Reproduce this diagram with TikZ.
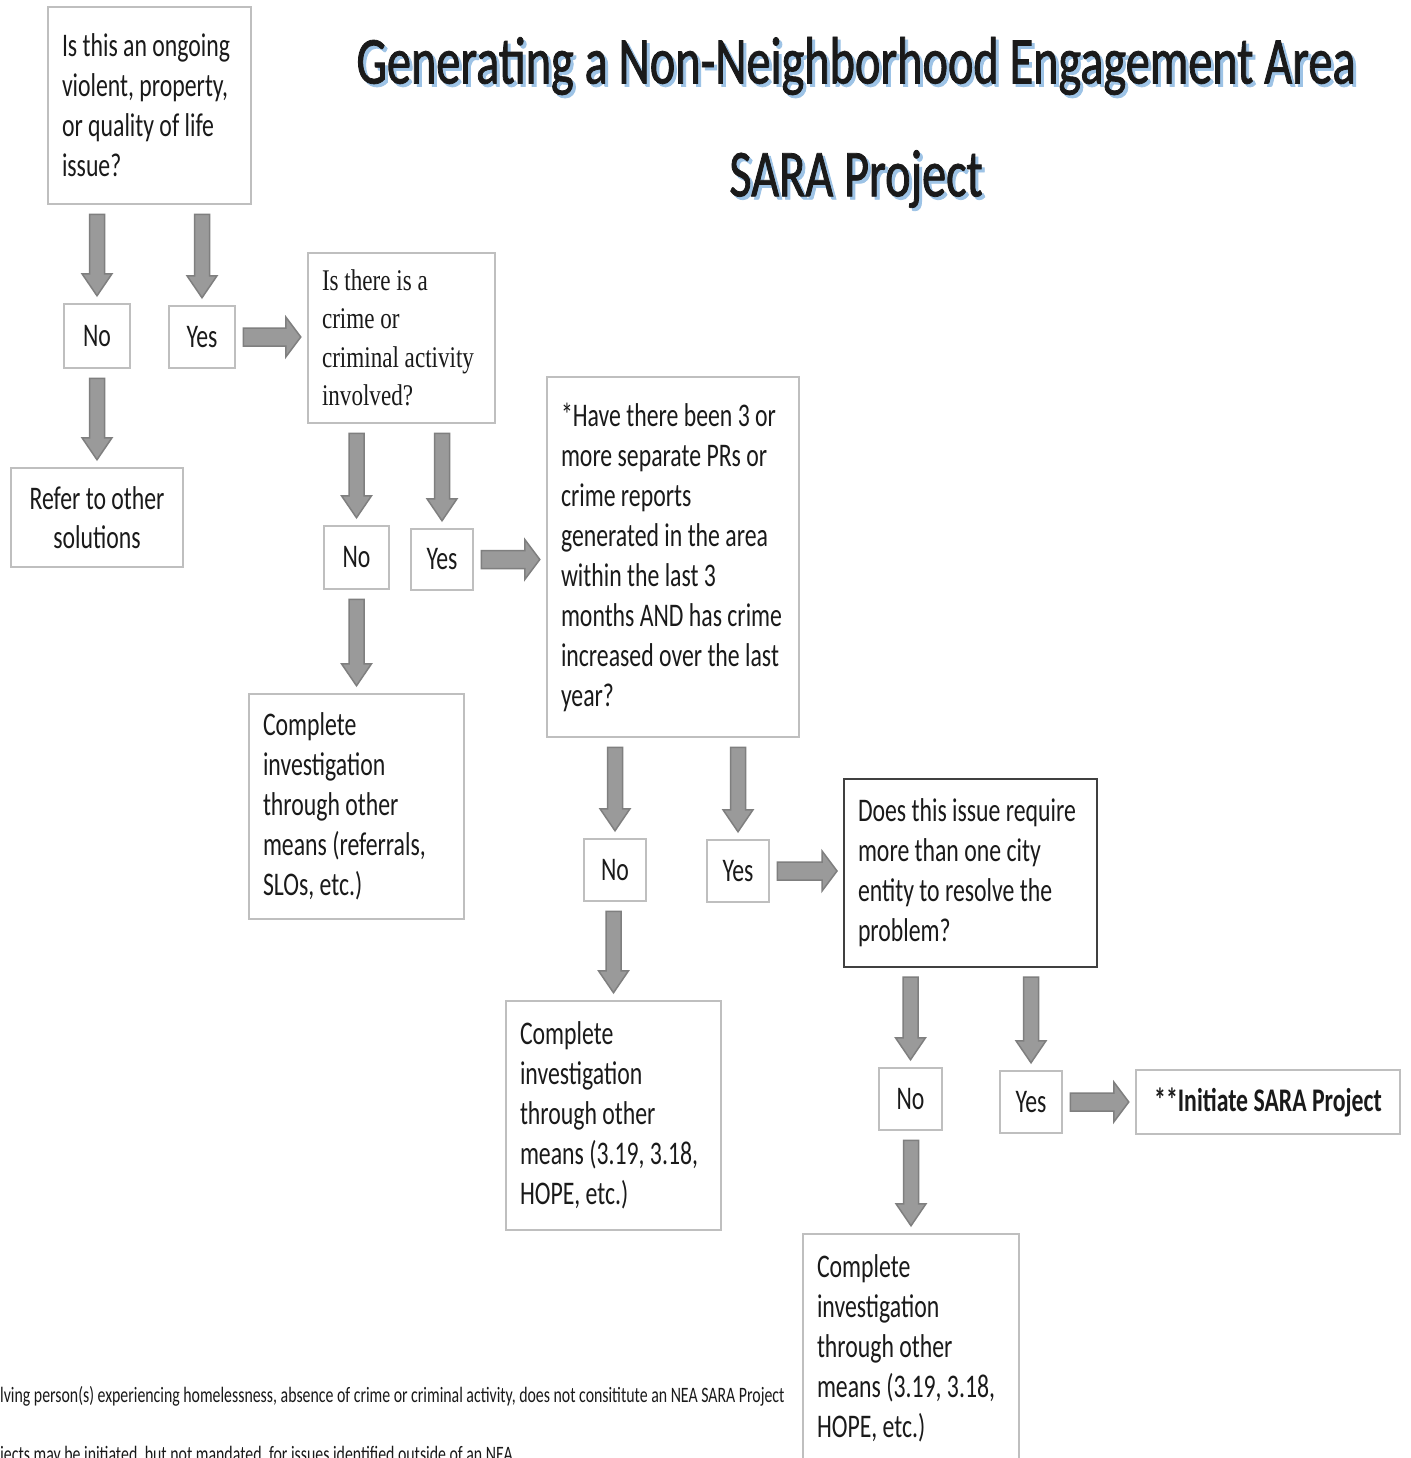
\documentclass[tikz,border=0pt]{standalone}
\usepackage{fontspec}
\setmainfont{Carlito}[FakeStretch=0.72]
\newfontfamily\serifc{Liberation Serif}[FakeStretch=0.77]
\newfontfamily\titlef{Carlito}[FakeStretch=0.72, FakeBold=1.2]
\usetikzlibrary{calc}
\definecolor{boxgray}{HTML}{BFBFBF}
\definecolor{boxdark}{HTML}{404040}
\definecolor{arrfill}{HTML}{9A9A9A}
\definecolor{arrline}{HTML}{7F7F7F}
\definecolor{shadowblue}{HTML}{9DC3E6}
\definecolor{txt}{HTML}{1A1A1A}
\tikzset{
  box/.style={draw=boxgray, line width=2.5pt, fill=white, inner sep=0pt, text=txt,
     font=\fontsize{33}{40}\selectfont},
  qbox/.style={box, align=flush left},
  yn/.style={box},
  blockarrow/.style={fill=arrfill, draw=arrline, line width=1.5pt, line join=miter},
  titlefont/.style={font=\titlef\fontsize{67}{72}\selectfont, inner sep=0pt},
  foot/.style={anchor=base west, inner sep=0pt, text=txt, font=\fontsize{22}{24}\selectfont},
}
\newcommand\varrow[2]{\filldraw[blockarrow] let \p1=(#1.south), \p2=(#2.north) in
  (\x2-7.5pt,\y1-9pt) -- (\x2+7.5pt,\y1-9pt) -- (\x2+7.5pt,\y2+29pt) -- (\x2+15pt,\y2+29pt)
  -- (\x2,\y2+7pt) -- (\x2-15pt,\y2+29pt) -- (\x2-7.5pt,\y2+29pt) -- cycle;}
\newcommand\harrow[2]{\filldraw[blockarrow] let \p1=(#1.east), \p2=(#2.west) in
  (\x1+7pt,\y1+9pt) -- (\x2-21pt,\y1+9pt) -- (\x2-21pt,\y1+20pt) -- (\x2-6pt,\y1)
  -- (\x2-21pt,\y1-20pt) -- (\x2-21pt,\y1-9pt) -- (\x1+7pt,\y1-9pt) -- cycle;}
\begin{document}
\begin{tikzpicture}[x=1pt,y=-1pt]
\useasboundingbox (0,0) rectangle (1410,1458);
\fill[white] (0,0) rectangle (1410,1458);
\clip (0,0) rectangle (1410,1458);

% titles
\node[titlefont, text=shadowblue] (t1s) at (859,69) {Generating a Non-Neighborhood Engagement Area};
\node[titlefont, text=txt] (t1) at (856,66) {Generating a Non-Neighborhood Engagement Area};
\node[titlefont, text=shadowblue] (t2s) at (859,182) {SARA Project};
\node[titlefont, text=txt] (t2) at (856,179) {SARA Project};

% boxes
\node[qbox, minimum width=203pt, minimum height=197pt, text width=175pt] (Q1) at (149.5,105.5)
  {Is this an ongoing\\violent, property,\\or quality of life\\issue?};
\node[yn, minimum width=66pt, minimum height=64pt] (No1) at (97,336) {No};
\node[yn, minimum width=66pt, minimum height=62pt] (Yes1) at (202,337) {Yes};
\node[box, align=flush center, minimum width=172pt, minimum height=99pt, font=\fontsize{33}{39}\selectfont] (Ref) at (97,517.5)
  {Refer to other\\solutions};
\node[qbox, minimum width=187pt, minimum height=170pt, text width=159pt,
  font=\serifc\fontsize{30}{38.5}\selectfont] (Q2) at (401.5,338)
  {Is there is a\\crime or\\criminal activity\\involved?};
\node[yn, minimum width=65pt, minimum height=63pt] (No2) at (356.5,557.5) {No};
\node[yn, minimum width=62pt, minimum height=61pt] (Yes2) at (442,559.5) {Yes};
\node[qbox, minimum width=215pt, minimum height=225pt, text width=187pt] (C1) at (356.5,806.5)
  {Complete\\investigation\\through other\\means (referrals,\\SLOs, etc.)};
\node[qbox, minimum width=252pt, minimum height=360pt, text width=224pt] (Q3) at (673,557)
  {*Have there been 3 or\\more separate PRs or\\crime reports\\generated in the area\\within the last 3\\months AND has crime\\increased over the last\\year?};
\node[yn, minimum width=62pt, minimum height=62pt] (No3) at (615,870) {No};
\node[yn, minimum width=62pt, minimum height=62pt] (Yes3) at (738,871) {Yes};
\node[qbox, minimum width=215pt, minimum height=229pt, text width=187pt] (C2) at (613.5,1115.5)
  {Complete\\investigation\\through other\\means (3.19, 3.18,\\HOPE, etc.)};
\node[qbox, draw=boxdark, line width=2pt, minimum width=253pt, minimum height=188pt, text width=225pt] (Q4) at (970.5,873)
  {Does this issue require\\more than one city\\entity to resolve the\\problem?};
\node[yn, minimum width=63pt, minimum height=62pt] (No4) at (910.5,1099) {No};
\node[yn, minimum width=62pt, minimum height=62pt] (Yes4) at (1031,1102) {Yes};
\node[box, minimum width=264pt, minimum height=64pt, font=\bfseries\fontsize{33}{36}\selectfont] (Init) at (1268,1102)
  {**Initiate SARA Project};
\node[qbox, minimum width=216pt, minimum height=229pt, text width=188pt] (C3) at (911,1348.5)
  {Complete\\investigation\\through other\\means (3.19, 3.18,\\HOPE, etc.)};

% arrows
\varrow{Q1}{No1}
\varrow{Q1}{Yes1}
\varrow{No1}{Ref}
\harrow{Yes1}{Q2}
\varrow{Q2}{No2}
\varrow{Q2}{Yes2}
\varrow{No2}{C1}
\harrow{Yes2}{Q3}
\varrow{Q3}{No3}
\varrow{Q3}{Yes3}
\varrow{No3}{C2}
\harrow{Yes3}{Q4}
\varrow{Q4}{No4}
\varrow{Q4}{Yes4}
\varrow{No4}{C3}
\harrow{Yes4}{Init}

% footnotes
\node[foot] (fn1) at (0,1402)
  {lving person(s) experiencing homelessness, absence of crime or criminal activity, does not consititute an NEA SARA Project};
\node[foot] (fn2) at (0,1461)
  {jects may be initiated, but not mandated, for issues identified outside of an NEA};
\end{tikzpicture}
\end{document}
